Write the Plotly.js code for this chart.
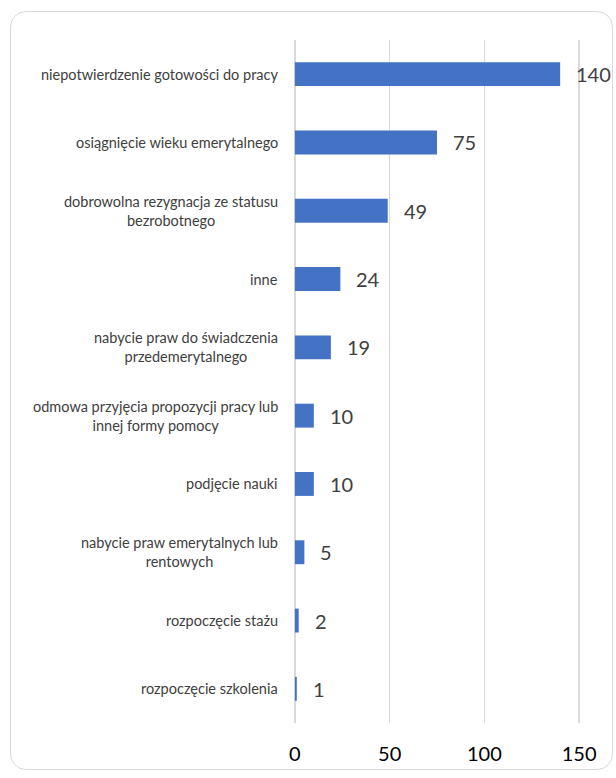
<!DOCTYPE html>
<html>
<head>
<meta charset="utf-8">
<script src="https://cdn.plot.ly/plotly-3.0.1.min.js"></script>
<style>
  html, body { margin: 0; padding: 0; background: #fff; }
  #wrap { position: relative; width: 616px; height: 778px; }
  #chart { position: absolute; left: 0; top: 0; width: 616px; height: 778px; }
  #frame { position: absolute; left: 10px; top: 11px; width: 601px; height: 757px;
           border: 1.5px solid #d9d9d9; border-radius: 16px; pointer-events: none; }
</style>
</head>
<body>
<div id="wrap">
  <div id="chart"></div>
  <div id="frame"></div>
</div>
<script>
const categories = [
  "niepotwierdzenie gotowości do pracy",
  "osiągnięcie wieku emerytalnego",
  "dobrowolna rezygnacja ze statusu<br>bezrobotnego",
  "inne",
  "nabycie praw do świadczenia<br>przedemerytalnego",
  "odmowa przyjęcia propozycji pracy lub<br>innej formy pomocy",
  "podjęcie nauki",
  "nabycie praw emerytalnych lub<br>rentowych",
  "rozpoczęcie stażu",
  "rozpoczęcie szkolenia"
];
const values = [140, 75, 49, 24, 19, 10, 10, 5, 2, 1];
const xTicks = [0, 50, 100, 150];

const ids = categories.map((c, i) => "c" + i);
const FONT = "Lato, 'Open Sans', sans-serif";

const trace = {
  type: "bar",
  orientation: "h",
  x: values,
  y: ids,
  width: 0.35,
  marker: { color: "#4472c4" },
  hoverinfo: "x"
};

const annotations = [];
categories.forEach((c, i) => {
  annotations.push({
    xref: "paper", yref: "y", x: 0, y: ids[i],
    xanchor: "right", yanchor: "middle", xshift: -13,
    text: c, showarrow: false, align: "center",
    font: { family: FONT, size: 14.5, color: "#404040" }
  });
  annotations.push({
    xref: "x", yref: "y", x: values[i], y: ids[i],
    xanchor: "left", yanchor: "middle", xshift: 14,
    text: String(values[i]), showarrow: false,
    font: { family: FONT, size: 20, color: "#404040" }
  });
});

const layout = {
  width: 616, height: 778,
  margin: { l: 293, r: 35, t: 40, b: 55 },
  paper_bgcolor: "#ffffff",
  plot_bgcolor: "#ffffff",
  showlegend: false,
  bargap: 0.65,
  xaxis: {
    range: [-1, 151],
    tickvals: xTicks,
    ticktext: xTicks.map(String),
    showgrid: true, gridcolor: "#d9d9d9", gridwidth: 1.5,
    zeroline: true, zerolinecolor: "#d9d9d9", zerolinewidth: 1.5,
    showline: false,
    ticks: "outside", ticklen: 13, tickcolor: "rgba(0,0,0,0)",
    tickfont: { family: FONT, size: 20, color: "#000000" },
    fixedrange: true
  },
  yaxis: {
    categoryorder: "array",
    categoryarray: ids.slice().reverse(),
    autorange: true,
    showticklabels: false,
    showgrid: false, zeroline: false, showline: false,
    ticks: "",
    fixedrange: true
  },
  annotations: annotations
};

Plotly.newPlot("chart", [trace], layout, { displayModeBar: false, staticPlot: true });
</script>
</body>
</html>
